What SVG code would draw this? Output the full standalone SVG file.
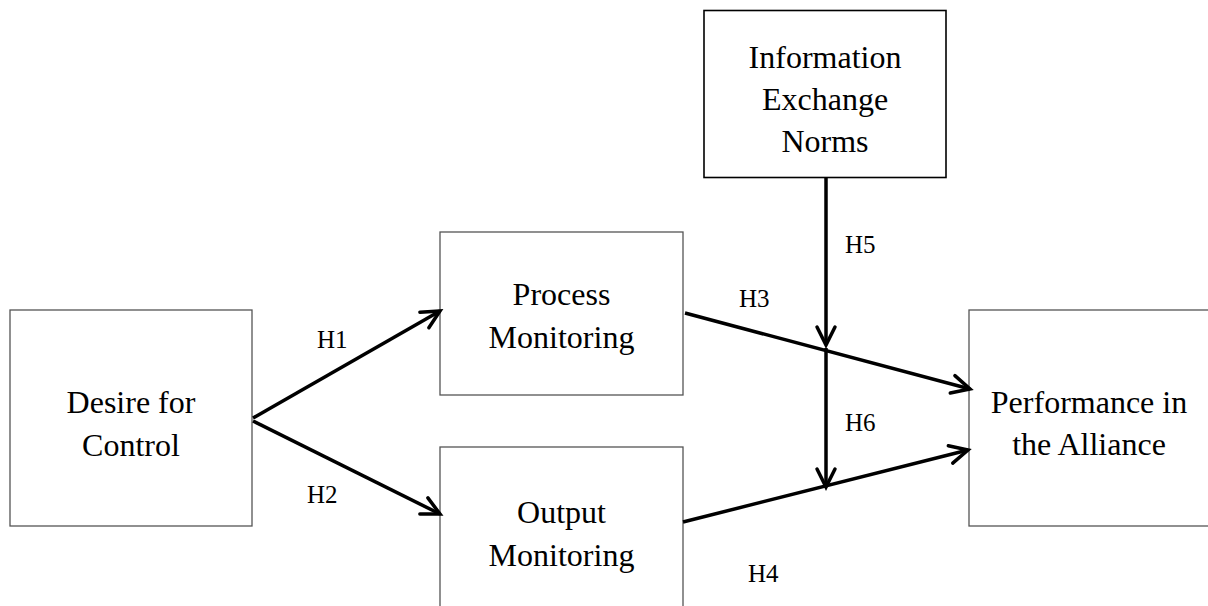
<svg xmlns="http://www.w3.org/2000/svg" width="1208" height="606" viewBox="0 0 1208 606">
  <style>
    .box { fill: #ffffff; stroke: #555555; stroke-width: 1.3; }
    .box-dark { fill: #ffffff; stroke: #000000; stroke-width: 1.6; }
    .label { font-family: "Liberation Serif", "Times New Roman", serif; font-size: 32px; fill: #000; text-anchor: middle; }
    .hyp { font-family: "Liberation Serif", "Times New Roman", serif; font-size: 25px; fill: #000; }
    .edge { stroke: #000; stroke-width: 3.5; fill: none; marker-end: url(#arrow); }
  </style>
  <defs>
    <marker id="arrow" markerUnits="userSpaceOnUse" viewBox="-22 -12 26 24" markerWidth="26" markerHeight="24" refX="0" refY="0" orient="auto">
      <path d="M-18,-9 L0,0 L-18,9" fill="none" stroke="#000" stroke-width="3.5" stroke-linecap="round" stroke-linejoin="miter"/>
    </marker>
  </defs>
  <rect width="1208" height="606" fill="#ffffff"/>

  <g id="desire">
    <rect class="box" x="10" y="310" width="242" height="216"/>
    <text class="label" x="131" y="413">Desire for</text>
    <text class="label" x="131" y="456">Control</text>
  </g>

  <g id="process">
    <rect class="box" x="440" y="232" width="243" height="163"/>
    <text class="label" x="561.5" y="305">Process</text>
    <text class="label" x="561.5" y="348">Monitoring</text>
  </g>

  <g id="output">
    <rect class="box" x="440" y="447" width="243" height="170"/>
    <text class="label" x="561.5" y="523">Output</text>
    <text class="label" x="561.5" y="566">Monitoring</text>
  </g>

  <g id="info">
    <rect class="box-dark" x="704" y="10.5" width="242" height="167"/>
    <text class="label" x="825" y="68">Information</text>
    <text class="label" x="825" y="110">Exchange</text>
    <text class="label" x="825" y="152">Norms</text>
  </g>

  <g id="performance">
    <rect class="box" x="969" y="310" width="250" height="216"/>
    <text class="label" x="1089" y="413">Performance in</text>
    <text class="label" x="1089" y="455">the Alliance</text>
  </g>

  <g id="connectors">
    <line class="edge" x1="253" y1="418" x2="440" y2="311"/>
    <line class="edge" x1="253" y1="421" x2="440" y2="514"/>
    <line class="edge" x1="685" y1="313" x2="970" y2="389"/>
    <line class="edge" x1="683" y1="522" x2="968" y2="450"/>
    <line class="edge" x1="826" y1="178" x2="826" y2="345"/>
    <line class="edge" x1="826" y1="348" x2="826" y2="487"/>
  </g>

  <g id="hypotheses">
    <text class="hyp" x="317" y="348">H1</text>
    <text class="hyp" x="307" y="503">H2</text>
    <text class="hyp" x="739" y="307">H3</text>
    <text class="hyp" x="748" y="582">H4</text>
    <text class="hyp" x="845" y="253">H5</text>
    <text class="hyp" x="845" y="431">H6</text>
  </g>
</svg>
